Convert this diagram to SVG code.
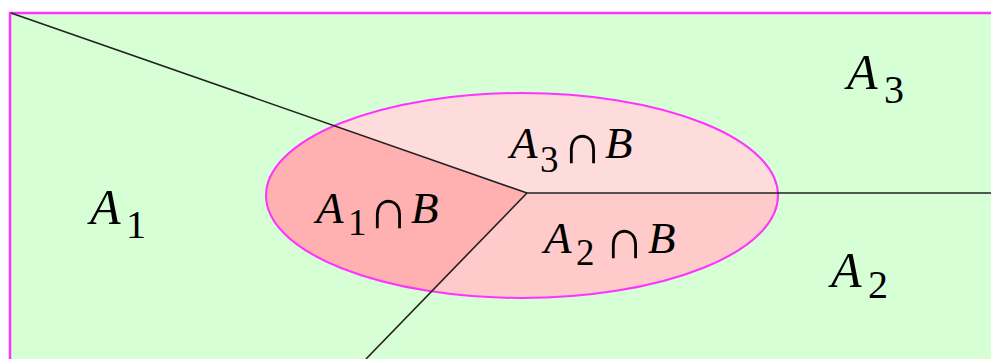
<svg xmlns="http://www.w3.org/2000/svg" width="991" height="359" viewBox="0 0 991 359">
<style>
.t{font-family:"Liberation Serif","Times New Roman",serif;fill:#000}
.i{font-style:italic}
.big{font-size:50px}
.bs{font-size:40px}
.mid{font-size:45px}
.ms{font-size:37px}
.cap{font-family:"DejaVu Sans","Liberation Serif",sans-serif;font-size:56px;font-weight:200}
.ln{stroke:#222;stroke-width:1.6;fill:none}
</style>
<defs>
<clipPath id="ell"><ellipse cx="522" cy="195.5" rx="256" ry="102.5"/></clipPath>
</defs>
<g id="universe">
<rect x="10" y="13" width="990" height="360" fill="#d6ffd6" stroke="#ff33ff" stroke-width="2.5"/>
</g>
<g id="setB" clip-path="url(#ell)">
<polygon points="0,0 11,13 527,193 366,359 0,359" fill="#ffb0b0"/>
<polygon points="11,13 991,13 991,193 527,193" fill="#ffdcdc"/>
<polygon points="527,193 991,193 991,359 366,359" fill="#ffcaca"/>
</g>
<g id="setB-outline">
<ellipse cx="522" cy="195.5" rx="256" ry="102.5" fill="none" stroke="#ff33ff" stroke-width="2"/>
</g>
<g id="connectors">
<polyline class="ln" points="11,13 527,193 991,193"/>
<line class="ln" x1="527" y1="193" x2="366" y2="359"/>
</g>
<g id="A1">
<text class="t i big" x="90" y="224">A</text><text class="t bs" x="126" y="238">1</text>
</g>
<g id="A3">
<text class="t i big" x="847" y="89">A</text><text class="t bs" x="884" y="103">3</text>
</g>
<g id="A2">
<text class="t i big" x="831" y="287">A</text><text class="t bs" x="868" y="298">2</text>
</g>
<g id="A1B">
<text class="t i mid" x="316" y="223">A</text><text class="t ms" x="348" y="235">1</text><text class="t cap" x="368" y="228">∩</text><text class="t i mid" x="411" y="223">B</text>
</g>
<g id="A3B">
<text class="t i mid" x="510" y="158">A</text><text class="t ms" x="540" y="172">3</text><text class="t cap" x="562" y="163">∩</text><text class="t i mid" x="605" y="158">B</text>
</g>
<g id="A2B">
<text class="t i mid" x="544" y="253">A</text><text class="t ms" x="576" y="265">2</text><text class="t cap" x="604" y="258">∩</text><text class="t i mid" x="648" y="253">B</text>
</g>
</svg>
